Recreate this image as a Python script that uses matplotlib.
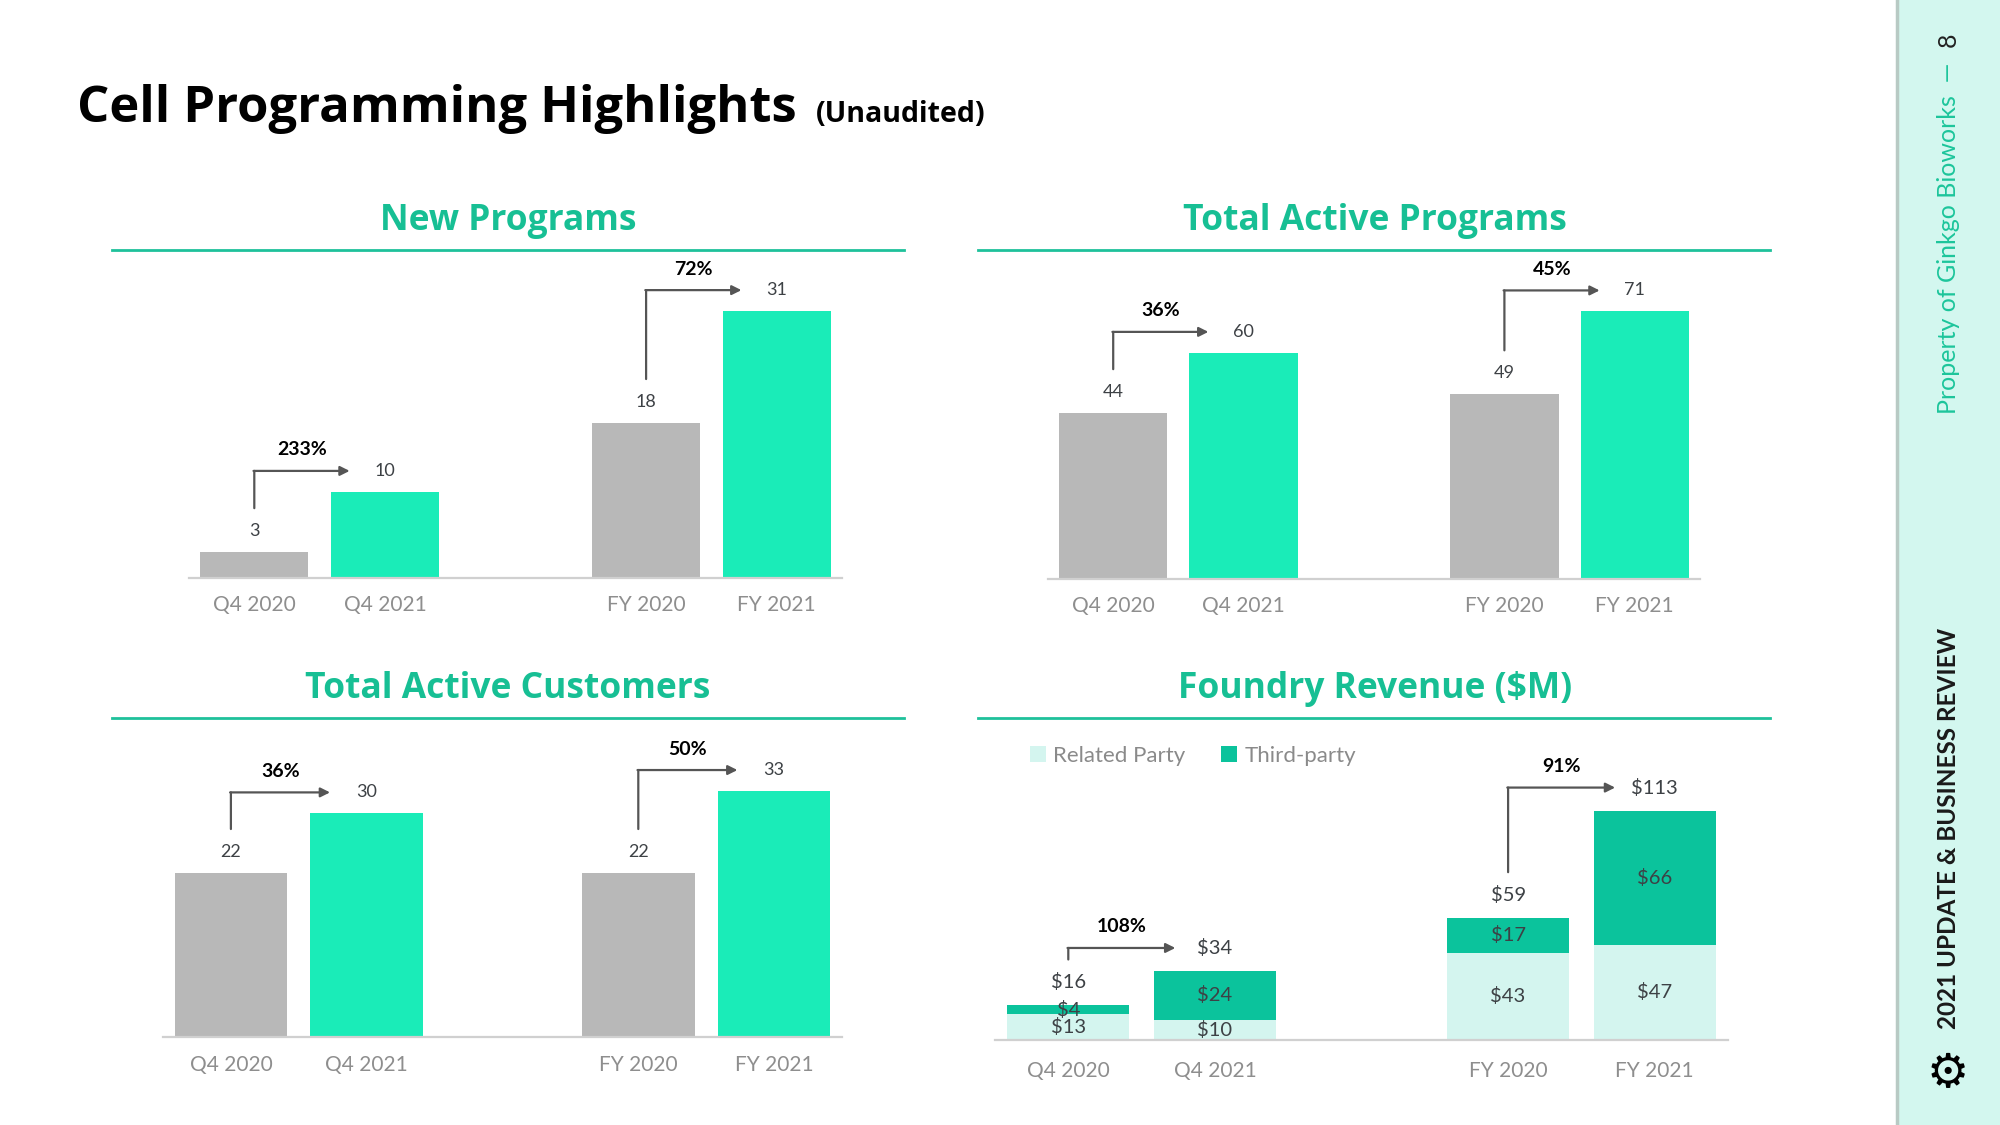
import matplotlib.pyplot as plt
from matplotlib.patches import Rectangle
from matplotlib.lines import Line2D

plt.rcParams['font.family'] = ['Lato', 'DejaVu Sans']

# ---- data ----
categories = ['Q4 2020', 'Q4 2021', 'FY 2020', 'FY 2021']
new_programs = [3, 10, 18, 31]
active_programs = [44, 60, 49, 71]
active_customers = [22, 30, 22, 33]
related_party = [13, 10, 43, 47]
third_party = [4, 24, 17, 66]
foundry_totals = [16, 34, 59, 113]

new_growth = ['233%', '72%']
programs_growth = ['36%', '45%']
customers_growth = ['36%', '50%']
revenue_growth = ['108%', '91%']

GRAY = '#b8b8b8'
MINT = '#1aecb8'
TEAL = '#0bc39c'
LIGHT = '#d4f5ef'
TITLE_GREEN = '#17bf94'
LABEL = '#3d4145'
HEAD = ['Open Sans', 'DejaVu Sans']

W, H = 2000, 1125
fig = plt.figure(figsize=(20, 11.25), dpi=100)
fig.set_facecolor('white')

xpos = [0, 1, 3, 4]


def fx(x):
    return x / W


def fy(y):
    return 1 - y / H


def add_panel(left, right, base, top, ymax, pad):
    ax = fig.add_axes([fx(left), fy(base), fx(right) - fx(left), (base - top) / H])
    ax.set_xlim(-0.5, 4.5)
    ax.set_ylim(0, ymax)
    for s in ['top', 'right', 'left']:
        ax.spines[s].set_visible(False)
    ax.spines['bottom'].set_color('#d0d0d0')
    ax.spines['bottom'].set_linewidth(1.6)
    ax.set_yticks([])
    ax.set_xticks(xpos, categories)
    ax.tick_params(axis='x', length=0, pad=pad, labelsize=15, labelcolor='#8e8e8e')
    ax.patch.set_alpha(0)
    return ax


def panel_title(text, cx, cy, x0, x1, ly):
    fig.text(fx(cx), fy(cy), text, ha='center', va='center', fontsize=25.5,
             fontweight='bold', color=TITLE_GREEN, family=HEAD)
    fig.add_artist(Line2D([fx(x0), fx(x1)], [fy(ly), fy(ly)], color='#1ec19b', lw=2))


def growth(ax, v1, v2, text, lab_off):
    to_px = ax.transData.transform
    x1, y1 = to_px((xpos[v1[0]], v1[1]))
    x2, y2 = to_px((xpos[v2[0]] - 0.27, v2[1]))
    ys = y1 + lab_off + 23
    yc = y2 + lab_off
    ax.annotate('', xy=(x1, yc), xytext=(x1, ys), xycoords='figure pixels',
                textcoords='figure pixels',
                arrowprops=dict(arrowstyle='-', color='#555555', lw=1.6, shrinkA=0, shrinkB=0))
    ax.annotate('', xy=(x2, yc), xytext=(x1 - 0.8, yc), xycoords='figure pixels',
                textcoords='figure pixels',
                arrowprops=dict(arrowstyle='-|>', color='#555555', lw=1.6, shrinkA=0,
                                shrinkB=0, mutation_scale=14))
    fig.text((x1 + x2) / 2 / W, (yc + 21) / H, text, ha='center', va='center',
             fontsize=14, fontweight='bold', color='black')


def simple_chart(ax, values, growth_labels, off=21, size=13):
    ax.bar(xpos, values, width=0.83, color=[GRAY, MINT, GRAY, MINT])
    for x, v in zip(xpos, values):
        ax.annotate(str(v), (x, v), xytext=(0, off), textcoords='offset pixels',
                    ha='center', va='center', fontsize=size, color=LABEL)
    growth(ax, (0, values[0]), (1, values[1]), growth_labels[0], off)
    growth(ax, (2, values[2]), (3, values[3]), growth_labels[1], off)


# ---- headline ----
fig.text(fx(77), fy(109), 'Cell Programming Highlights', ha='left', va='center',
         fontsize=36.5, fontweight='bold', color='black', family=HEAD)
fig.text(fx(816), fy(115), '(Unaudited)', ha='left', va='center',
         fontsize=20.5, fontweight='bold', color='black', family=HEAD)

# ---- New Programs ----
panel_title('New Programs', 508, 221, 112, 904, 250)
ax1 = add_panel(189, 842, 578, 250, 38.1, 12)
simple_chart(ax1, new_programs, new_growth)

# ---- Total Active Programs ----
panel_title('Total Active Programs', 1375, 221, 978, 1770, 250)
ax2 = add_panel(1048, 1700, 579, 250, 87.3, 12)
simple_chart(ax2, active_programs, programs_growth)

# ---- Total Active Customers ----
panel_title('Total Active Customers', 508, 689, 112, 904, 718)
ax3 = add_panel(163, 842, 1037, 718, 42.8, 13)
simple_chart(ax3, active_customers, customers_growth)

# ---- Foundry Revenue ----
panel_title('Foundry Revenue ($M)', 1375, 689, 978, 1770, 718)
ax4 = add_panel(995, 1728, 1040, 718, 158.6, 15)
ax4.bar(xpos, related_party, width=0.83, color=LIGHT, label='Related Party')
ax4.bar(xpos, third_party, width=0.83, bottom=related_party, color=TEAL, label='Third-party')
tops = [r + t for r, t in zip(related_party, third_party)]
for x, r, t, tot, top in zip(xpos, related_party, third_party, foundry_totals, tops):
    ax4.text(x, r / 2, f'${r}', ha='center', va='center', fontsize=14.5, color=LABEL)
    ax4.text(x, r + t / 2, f'${t}', ha='center', va='center', fontsize=14.5, color=LABEL)
    ax4.annotate(f'${tot}', (x, top), xytext=(0, 23), textcoords='offset pixels',
                 ha='center', va='center', fontsize=14.5, color=LABEL)
growth(ax4, (0, tops[0]), (1, tops[1]), revenue_growth[0], 23)
growth(ax4, (2, tops[2]), (3, tops[3]), revenue_growth[1], 23)
ax4.legend(loc='center left', bbox_to_anchor=(fx(1030), fy(756)), bbox_transform=fig.transFigure,
           ncol=2, frameon=False, handlelength=0.7, handleheight=0.7, handletextpad=0.35,
           columnspacing=1.6, borderpad=0, borderaxespad=0, labelcolor='#8a8a8a',
           prop={'size': 16})

# ---- side bar ----
fig.add_artist(Rectangle((fx(1897), 0), 1 - fx(1897), 1, transform=fig.transFigure,
                         color='#d3f7ef', zorder=0))
fig.add_artist(Line2D([fx(1897), fx(1897)], [0, 1], color='#b8cac4', lw=2.5))
fig.text(fx(1948), fy(62), 'Property of Ginkgo Bioworks  \u2014', rotation=90, ha='center',
         va='top', fontsize=18, color='#1cc59b')
fig.text(fx(1948), fy(40), '8', rotation=90, ha='center', va='center', fontsize=18,
         color='#222222')
fig.text(fx(1948), fy(828), '2021 UPDATE & BUSINESS REVIEW', rotation=90, ha='center',
         va='center', fontsize=17.5, fontweight='bold', color='#1a1a1a')
fig.text(fx(1948), fy(1074), '\u2699', family='DejaVu Sans', ha='center', va='center',
         fontsize=34, color='black')

fig.savefig('out.png', dpi=100)
